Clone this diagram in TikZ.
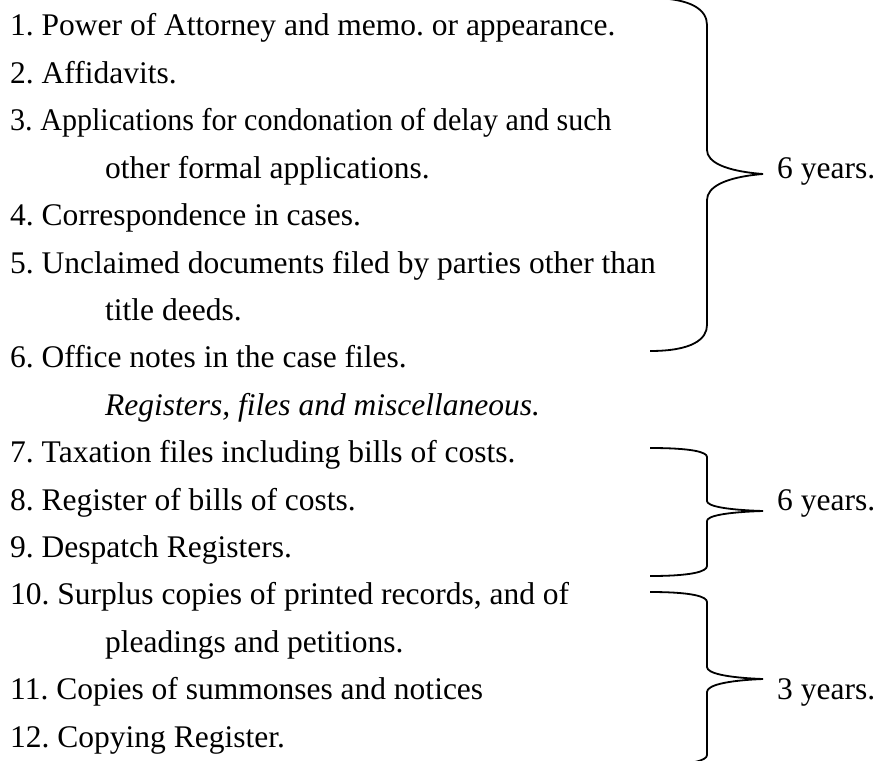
\documentclass[tikz,border=0pt]{standalone}
\usepackage{fontspec}
\setmainfont{Liberation Serif}
\usetikzlibrary{positioning}

\begin{document}
\frenchspacing
\begin{tikzpicture}[x=1pt,y=-1pt,
    entry/.style={anchor=base west,inner sep=0pt,font=\fontsize{31.5}{36}\selectfont},
    bracket/.style={line width=1.8pt}]
                \useasboundingbox (0,0) rectangle (877,760);
                \node[entry] (r1) at (10,36) {1. Power of Attorney and memo. or appearance.};
                \node[entry] (r2) at (10,83.4) {2. Affidavits.};
                \node[entry] (r3) at (10,130.8) {\scalebox{0.955}[1]{3. Applications for condonation of delay and such}};
                \node[entry] (r3b) at (105,178.2) {other formal applications.};
                \node[entry] (r4) at (10,225.6) {4. Correspondence in cases.};
                \node[entry] (r5) at (10,273) {5. Unclaimed documents filed by parties other than};
                \node[entry] (r5b) at (105,320.4) {title deeds.};
                \node[entry] (r6) at (10,367.8) {6. Office notes in the case files.};
                \node[entry] (head) at (105,415.2) {\itshape Registers, files and miscellaneous.};
                \node[entry] (r7) at (10,462.6) {7. Taxation files including bills of costs.};
                \node[entry] (r8) at (10,510) {8. Register of bills of costs.};
                \node[entry] (r9) at (10,557.4) {9. Despatch Registers.};
                \node[entry] (r10) at (10,604.8) {10. Surplus copies of printed records, and of};
                \node[entry] (r10b) at (105,652.2) {pleadings and petitions.};
                \node[entry] (r11) at (10,699.6) {11. Copies of summonses and notices};
                \node[entry] (r12) at (10,747) {12. Copying Register.};
                \foreach \ya/\yb/\yc/\yt/\yd/\ye/\yf in {-2/25/150/174/200/325/351, 448/457/501/511/521/566/576, 592/602/667/679/692/755/765}
                    \draw[bracket] (650,\ya) .. controls (692,\ya) and (707,{\ya+0.45*(\yb-\ya)}) .. (707,\yb)
                        -- (707,\yc) .. controls (707,{\yc+0.5*(\yt-\yc)}) and (725,{\yt-0.12*(\yt-\yc)}) .. (763,\yt)
                        .. controls (725,{\yt+0.12*(\yd-\yt)}) and (707,{\yd-0.5*(\yd-\yt)}) .. (707,\yd)
                        -- (707,\ye) .. controls (707,{\ye+0.55*(\yf-\ye)}) and (692,\yf) .. (650,\yf);
                \node[entry] (first) at (777,178.2) {6 years.};
                \node[entry] (second) at (777,510) {6 years.};
                \node[entry] (third) at (777,699.6) {3 years.};
            \end{tikzpicture}
\end{document}
